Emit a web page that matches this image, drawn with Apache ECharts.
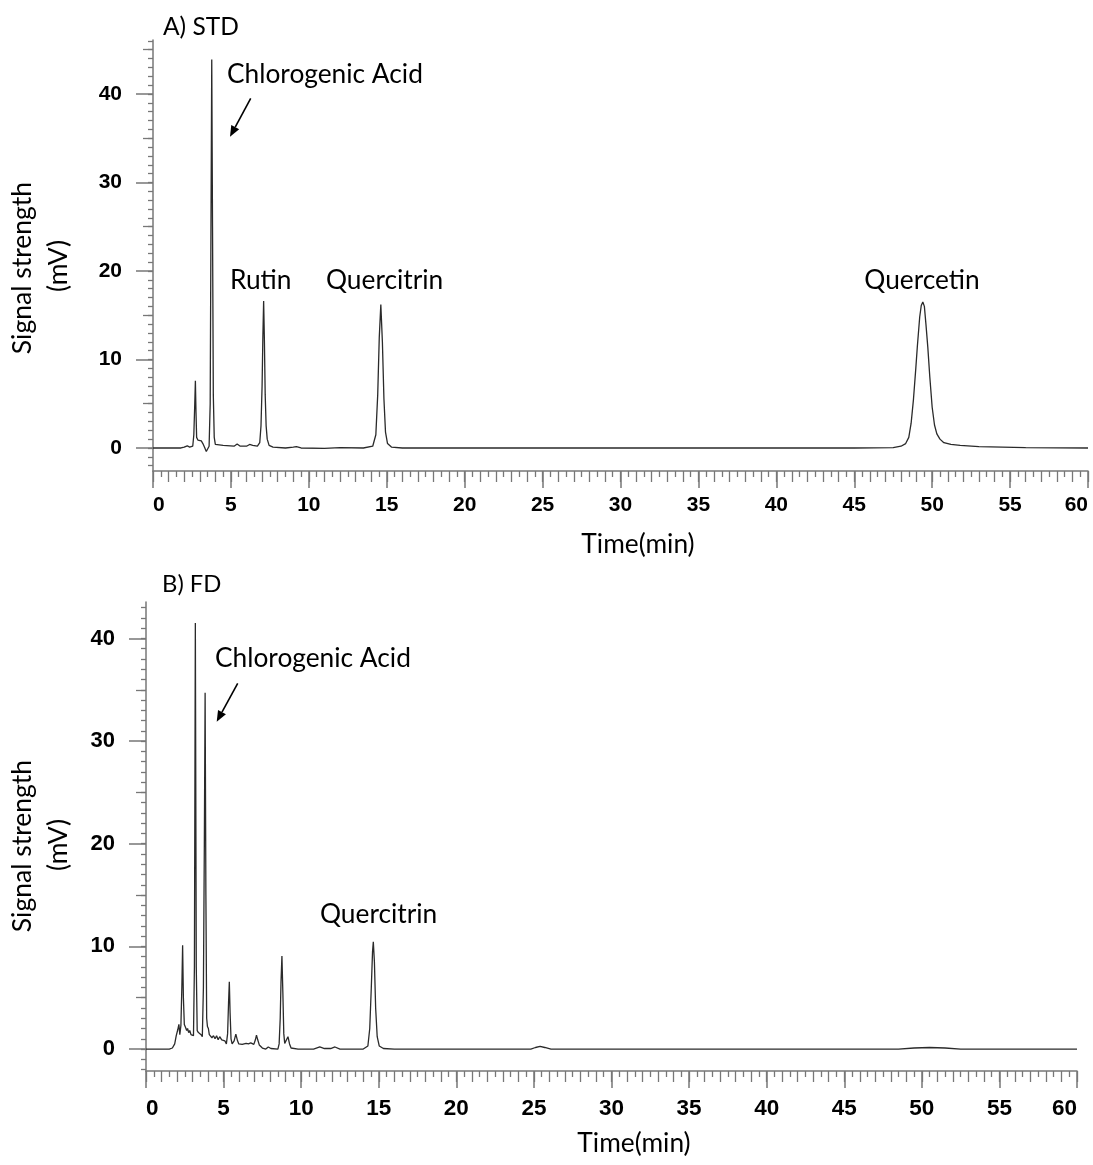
<!DOCTYPE html>
<html lang="en">
<head>
<meta charset="utf-8">
<title>HPLC chromatograms - STD / FD</title>
<style>
  html, body { margin: 0; padding: 0; background: #fff; }
  #page { width: 1093px; height: 1165px; }
</style>
</head>
<body>
<div id="page"></div>
<script src="https://cdn.jsdelivr.net/npm/echarts@6/dist/echarts.min.js"></script>
<script>
// A) STD : [retention time (min), signal (mV)]
var stdTrace = [
  [0, 0], [1.8, 0], [2.0, 0.1], [2.2, 0.25], [2.35, 0.1], [2.55, 0.2], [2.62, 1.5], [2.68, 5],
  [2.72, 7.6], [2.76, 4], [2.8, 1.2], [2.88, 0.9], [3.0, 0.9], [3.1, 0.8], [3.2, 0.5], [3.3, 0.1],
  [3.42, -0.4], [3.5, -0.2], [3.6, 0.2], [3.67, 5], [3.72, 25], [3.77, 43.9], [3.82, 25], [3.87, 6],
  [3.93, 1.2], [4.0, 0.4], [4.5, 0.3], [5.2, 0.2], [5.4, 0.45], [5.6, 0.2], [6.0, 0.2], [6.2, 0.4],
  [6.3, 0.6], [6.4, 0.3], [6.7, 0.2], [6.85, 0.6], [6.93, 2.5], [7.0, 7], [7.05, 12.5], [7.1, 16.6],
  [7.15, 12], [7.2, 6], [7.26, 2.5], [7.33, 1.0], [7.45, 0.3], [7.7, 0.1], [8.5, 0], [9.0, 0.1],
  [9.2, 0.15], [9.5, 0], [11, -0.05], [12, 0.05], [13.5, 0], [14.1, 0.2], [14.3, 1.5], [14.42, 6],
  [14.52, 12.5], [14.62, 16.2], [14.72, 12], [14.82, 5.5], [14.92, 1.8], [15.05, 0.5], [15.3, 0.1],
  [16, 0], [30, 0], [45, 0], [47.5, 0.05], [48.0, 0.2], [48.3, 0.5], [48.5, 1.2], [48.65, 2.8],
  [48.8, 5.5], [48.95, 9], [49.05, 11.5], [49.2, 14.8], [49.3, 16.1], [49.4, 16.5], [49.5, 16],
  [49.6, 14], [49.72, 11.4], [49.85, 8], [50.0, 4.6], [50.15, 2.6], [50.3, 1.6], [50.5, 1.0],
  [50.75, 0.6], [51.2, 0.4], [51.8, 0.3], [53, 0.15], [56, 0.05], [60, 0]
];

// B) FD
var fdTrace = [
  [0, 0], [1.5, 0], [1.7, 0.1], [1.85, 0.5], [1.95, 1.3], [2.05, 1.9], [2.12, 2.4], [2.18, 1.4],
  [2.25, 2.3], [2.31, 6], [2.36, 10.1], [2.41, 5], [2.47, 2.4], [2.55, 2.1], [2.62, 1.8], [2.68, 2.0],
  [2.75, 1.6], [2.82, 1.8], [2.9, 1.4], [2.98, 1.5], [3.06, 1.3], [3.12, 8], [3.18, 41.5], [3.24, 8],
  [3.3, 1.8], [3.38, 1.6], [3.46, 1.5], [3.55, 1.4], [3.63, 1.2], [3.7, 6], [3.76, 20], [3.81, 34.7],
  [3.86, 15], [3.91, 3], [3.96, 2.2], [4.02, 2.0], [4.08, 1.4], [4.15, 1.5], [4.25, 1.1], [4.35, 1.3],
  [4.45, 1.0], [4.55, 1.3], [4.65, 0.9], [4.75, 1.2], [4.88, 0.9], [4.98, 1.0], [5.08, 0.8], [5.18, 0.5],
  [5.26, 1.5], [5.32, 4.5], [5.37, 6.55], [5.42, 3.5], [5.48, 1.0], [5.55, 0.5], [5.68, 0.8], [5.79, 1.45],
  [5.9, 0.8], [5.98, 0.5], [6.2, 0.45], [6.45, 0.55], [6.6, 0.5], [6.75, 0.6], [6.85, 0.5], [6.95, 0.45],
  [7.05, 0.9], [7.12, 1.35], [7.2, 0.9], [7.3, 0.4], [7.5, 0.1], [7.72, 0], [7.88, 0.2], [8.05, 0.05],
  [8.5, 0], [8.58, 0.5], [8.65, 3], [8.7, 6.5], [8.76, 9.05], [8.82, 5.5], [8.88, 1.5], [8.94, 0.55],
  [9.05, 0.7], [9.15, 1.2], [9.25, 0.5], [9.35, 0.1], [9.8, 0], [10.8, 0], [11.2, 0.2], [11.5, 0.05],
  [11.9, 0.05], [12.18, 0.2], [12.5, 0], [14.0, 0], [14.3, 0.3], [14.42, 2], [14.52, 6], [14.6, 9.5],
  [14.65, 10.45], [14.72, 8.5], [14.8, 4], [14.9, 1.2], [15.03, 0.3], [15.3, 0.05], [16, 0], [24.8, 0],
  [25.1, 0.15], [25.4, 0.25], [25.7, 0.15], [26.1, 0], [48.5, 0], [49.5, 0.1], [50.5, 0.15], [51.5, 0.1],
  [52.5, 0], [60, 0]
];

// tick labels
var xTickLabels = [0, 5, 10, 15, 20, 25, 30, 35, 40, 45, 50, 55, 60];
var yTickLabels = [0, 10, 20, 30, 40];
var yMidTicks = [5, 15, 25, 35, 45];

// unlabelled minor ticks
var xIntTicks = [], xHalfTicks = [], yUnitTicks = [];
for (var i = 0; i <= 60; i++) { xIntTicks.push(i); xHalfTicks.push(i + 0.5); }
for (var j = -2; j <= 46; j++) { yUnitTicks.push(j); }

var axisColor = '#777';
var tickFont = { fontFamily: "'Liberation Sans Narrow', 'Liberation Sans'", fontWeight: 'bold', color: '#000' };
var textFont = 'Lato';

function xAxes(gridIndex, labelSize, labelMargin) {
  var base = {
    type: 'value', gridIndex: gridIndex, min: 0, max: 60, position: 'bottom',
    splitLine: { show: false }
  };
  return [
    Object.assign({}, base, {
      axisLine: { show: true, onZero: false, lineStyle: { color: axisColor, width: 1.5 } },
      axisTick: { show: true, customValues: xTickLabels, length: 17, lineStyle: { color: axisColor, width: 1.5 } },
      axisLabel: Object.assign({ customValues: xTickLabels, fontSize: labelSize, margin: labelMargin,
        alignMinLabel: 'left', alignMaxLabel: 'right' }, tickFont)
    }),
    Object.assign({}, base, {
      axisLine: { show: false, onZero: false },
      axisTick: { show: true, customValues: xIntTicks, length: 11, lineStyle: { color: axisColor, width: 1.3 } },
      axisLabel: { show: false }
    }),
    Object.assign({}, base, {
      axisLine: { show: false, onZero: false },
      axisTick: { show: true, customValues: xHalfTicks, length: 6, lineStyle: { color: axisColor, width: 1.3 } },
      axisLabel: { show: false }
    })
  ];
}

function yAxes(gridIndex, yMin, yMax, labelSize) {
  var base = {
    type: 'value', gridIndex: gridIndex, min: yMin, max: yMax, position: 'left',
    splitLine: { show: false }
  };
  return [
    Object.assign({}, base, {
      axisLine: { show: true, onZero: false, lineStyle: { color: axisColor, width: 1.5 } },
      axisTick: { show: true, customValues: yTickLabels, length: 17, lineStyle: { color: axisColor, width: 1.5 } },
      axisLabel: Object.assign({ customValues: yTickLabels, fontSize: labelSize, margin: 31 }, tickFont)
    }),
    Object.assign({}, base, {
      axisLine: { show: false, onZero: false },
      axisTick: { show: true, customValues: yMidTicks, length: 10, lineStyle: { color: axisColor, width: 1.3 } },
      axisLabel: { show: false }
    }),
    Object.assign({}, base, {
      axisLine: { show: false, onZero: false },
      axisTick: { show: true, customValues: yUnitTicks, length: 5, lineStyle: { color: axisColor, width: 1.3 } },
      axisLabel: { show: false }
    })
  ];
}

function label(text, x, y, size, align) {
  return {
    type: 'text', x: x, y: y, silent: true,
    style: { text: text, fill: '#000', fontFamily: textFont, fontSize: size,
      align: align || 'left', verticalAlign: 'middle' }
  };
}

function vlabel(text, x, y, size) {
  var t = label(text, x, y, size, 'center');
  t.rotation = Math.PI / 2;
  return t;
}

function arrow(x1, y1, x2, y2) {
  var dx = x2 - x1, dy = y2 - y1, len = Math.sqrt(dx * dx + dy * dy);
  var ux = dx / len, uy = dy / len, head = 11, half = 4.5;
  var bx = x2 - ux * head, by = y2 - uy * head;
  return [
    { type: 'line', silent: true, shape: { x1: x1, y1: y1, x2: bx, y2: by },
      style: { stroke: '#000', lineWidth: 1.6 } },
    { type: 'polygon', silent: true,
      shape: { points: [[x2, y2], [bx - uy * half, by + ux * half], [bx + uy * half, by - ux * half]] },
      style: { fill: '#000' } }
  ];
}

var chart = echarts.init(document.getElementById('page'));

var option = {
  animation: false,
  backgroundColor: '#fff',
  grid: [
    { left: 153, top: 40, width: 935, height: 431 },
    { left: 146, top: 602, width: 931, height: 469 }
  ],
  xAxis: xAxes(0, 21, 24).concat(xAxes(1, 22.5, 26)),
  yAxis: yAxes(0, -2.6, 46.1, 21).concat(yAxes(1, -2.14, 43.55, 22)),
  series: [
    {
      name: 'STD', type: 'line', xAxisIndex: 0, yAxisIndex: 0, data: stdTrace,
      showSymbol: false, lineStyle: { color: '#2a2a2a', width: 1.3 }
    },
    {
      name: 'FD', type: 'line', xAxisIndex: 3, yAxisIndex: 3, data: fdTrace,
      showSymbol: false, lineStyle: { color: '#2a2a2a', width: 1.3 }
    }
  ],
  graphic: [
    label('A) STD', 163, 27, 24.5),
    label('Chlorogenic Acid', 227, 75, 26.3),
    label('Rutin', 230, 281, 26.3),
    label('Quercitrin', 326, 281, 26.3),
    label('Quercetin', 922, 281, 26.3, 'center'),
    label('Time(min)', 638, 545, 26.3, 'center'),
    vlabel('Signal strength', 22, 268, 26.5),
    vlabel('(mV)', 58, 266, 26.5),

    label('B) FD', 162, 584, 23.8),
    label('Chlorogenic Acid', 215, 659, 26.3),
    label('Quercitrin', 320, 915, 26.3),
    label('Time(min)', 634, 1144, 26.3, 'center'),
    vlabel('Signal strength', 22, 846, 26.5),
    vlabel('(mV)', 58, 845, 26.5)
  ].concat(arrow(250.7, 98.3, 230, 136.7), arrow(237.7, 683.3, 216.7, 721.7))
};

chart.setOption(option);
</script>
</body>
</html>
